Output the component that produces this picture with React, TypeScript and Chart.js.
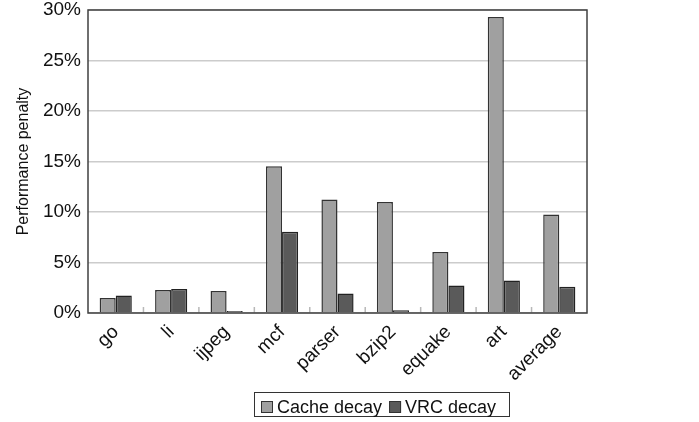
import React, { useEffect, useRef } from "react";
import { Chart, registerables } from "chart.js";

Chart.register(...registerables);

const categories = ["go", "li", "ijpeg", "mcf", "parser", "bzip2", "equake", "art", "average"];
const cacheDecay = [1.48, 2.27, 2.18, 14.54, 11.24, 11.0, 6.03, 29.3, 9.75];
const vrcDecay = [1.74, 2.37, 0.2, 8.04, 1.94, 0.26, 2.73, 3.22, 2.6];
const seriesLabels = ["Cache decay", "VRC decay"];
const yTicks = [0, 5, 10, 15, 20, 25, 30];

const FONT = "'Liberation Sans', Arial, sans-serif";
const CACHE_COLOR = "#a0a0a0";
const VRC_COLOR = "#5a5a5a";

const framePlugin = {
  id: "frameAndLegend",
  afterDatasetsDraw(chart: any) {
    const { ctx, chartArea } = chart;
    const xs = chart.scales.x;
    ctx.save();
    ctx.strokeStyle = "#b8b8b8";
    ctx.lineWidth = 1.5;
    for (let i = 1; i < categories.length; i++) {
      const x = (xs.getPixelForTick(i - 1) + xs.getPixelForTick(i)) / 2;
      ctx.beginPath();
      ctx.moveTo(x, chartArea.bottom);
      ctx.lineTo(x, chartArea.bottom - 6);
      ctx.stroke();
    }
    ctx.strokeStyle = "#404040";
    ctx.lineWidth = 1.5;
    ctx.strokeRect(chartArea.left, chartArea.top, chartArea.right - chartArea.left, chartArea.bottom - chartArea.top);
    ctx.restore();
  },
  afterDraw(chart: any) {
    const { ctx } = chart;
    ctx.save();
    ctx.font = `18px ${FONT}`;
    ctx.strokeStyle = "#333";
    ctx.lineWidth = 1;
    ctx.strokeRect(254.5, 392.5, 255, 24);
    const colors = [CACHE_COLOR, VRC_COLOR];
    let x = 261;
    ctx.textBaseline = "alphabetic";
    ctx.textAlign = "left";
    seriesLabels.forEach((label, i) => {
      ctx.fillStyle = colors[i];
      ctx.fillRect(x, 401, 12, 12);
      ctx.strokeStyle = "#333";
      ctx.strokeRect(x + 0.5, 401.5, 11, 11);
      ctx.fillStyle = "#111";
      ctx.fillText(label, x + 16, 413);
      x += 16 + ctx.measureText(label).width + 7;
    });
    ctx.restore();
  },
};

export default function App() {
  const ref = useRef<HTMLCanvasElement>(null);
  useEffect(() => {
    if (!ref.current) return;
    const chart = new Chart(ref.current, {
      type: "bar",
      data: {
        labels: categories,
        datasets: [
          {
            label: seriesLabels[0],
            data: cacheDecay,
            backgroundColor: CACHE_COLOR,
            borderColor: "#333",
            borderWidth: 1.5,
            categoryPercentage: 0.58,
            barPercentage: 1,
          },
          {
            label: seriesLabels[1],
            data: vrcDecay,
            backgroundColor: VRC_COLOR,
            borderColor: "#222",
            borderWidth: 1.5,
            categoryPercentage: 0.58,
            barPercentage: 1,
          },
        ],
      },
      plugins: [framePlugin],
      options: {
        responsive: false,
        animation: false,
        layout: { padding: { left: 0, right: 112, top: 10, bottom: 0 } },
        plugins: { legend: { display: false }, tooltip: { enabled: false } },
        scales: {
          x: {
            grid: { display: false, drawTicks: false },
            border: { display: false },
            ticks: {
              autoSkip: false,
              minRotation: 45,
              maxRotation: 45,
              padding: 8,
              color: "#111",
              font: { family: FONT, size: 19 },
            },
            afterFit: (scale: any) => {
              scale.height = 109;
              scale.paddingLeft = 0;
              scale.paddingRight = 0;
            },
          },
          y: {
            min: 0,
            max: 30,
            afterBuildTicks: (scale: any) => {
              scale.ticks = yTicks.map((v) => ({ value: v }));
            },
            grid: { color: "#cccccc", lineWidth: 1.5, drawTicks: false },
            border: { display: false },
            ticks: {
              padding: 7,
              color: "#111",
              font: { family: FONT, size: 19 },
              callback: (v: any) => v + "%",
            },
            title: {
              display: true,
              text: "Performance penalty",
              color: "#111",
              font: { family: FONT, size: 16 },
              padding: { top: 14, bottom: 0 },
            },
            afterFit: (scale: any) => {
              scale.width = 88;
              scale.paddingTop = 0;
              scale.paddingBottom = 0;
            },
          },
        },
      },
    });
    return () => chart.destroy();
  }, []);
  return (
    <div style={{ position: "absolute", left: 0, top: 0, width: 699, height: 422, background: "#fff" }}>
      <canvas ref={ref} width={699} height={422} />
    </div>
  );
}
